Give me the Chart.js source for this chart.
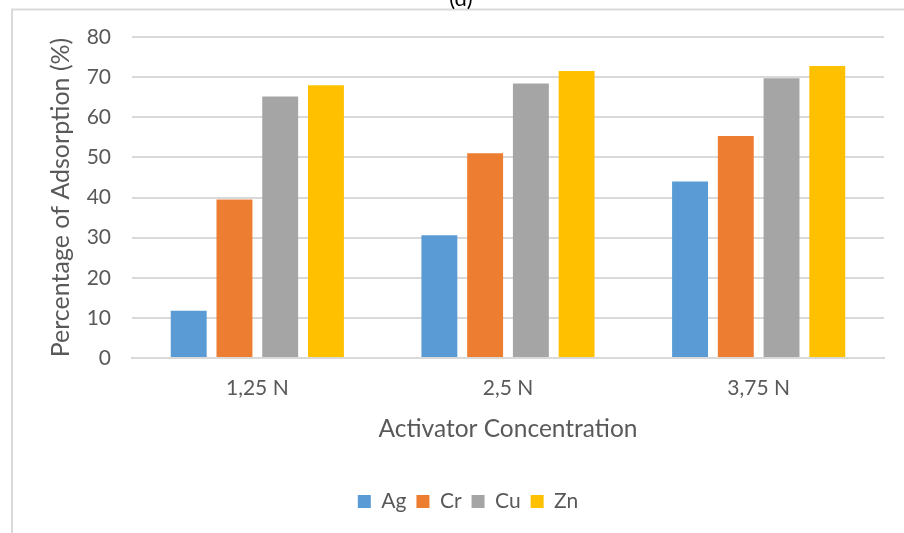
<!DOCTYPE html>
<html>
<head>
<meta charset="utf-8">
<script src="https://cdn.jsdelivr.net/npm/chart.js@4/dist/chart.umd.min.js"></script>
<style>
html,body{margin:0;padding:0;background:#fff;}
#wrap{position:relative;width:904px;height:533px;}
canvas{display:block;}
</style>
</head>
<body>
<div id="wrap"><canvas id="c" width="904" height="533"></canvas></div>
<script>
const categories = ['1,25 N', '2,5 N', '3,75 N'];
const seriesNames = ['Ag', 'Cr', 'Cu', 'Zn'];
const agValues = [11.8, 30.6, 44.0];
const crValues = [39.5, 51.0, 55.3];
const cuValues = [65.2, 68.4, 69.7];
const znValues = [68.0, 71.5, 72.8];
const yTicks = [0, 10, 20, 30, 40, 50, 60, 70, 80];
const chartTitle = '(d)';
const xTitle = 'Activator Concentration';
const yTitle = 'Percentage of Adsorption (%)';

const colors = ['#5B9BD5', '#ED7D31', '#A5A5A5', '#FFC000'];
const seriesValues = [agValues, crValues, cuValues, znValues];

const frameAndTitle = {
  id: 'frameAndTitle',
  afterLayout(chart) {
    if (chart.legend) { chart.legend.left += 11; chart.legend.right += 11; }
  },
  beforeDraw(chart) {
    const ctx = chart.ctx;
    ctx.save();
    ctx.fillStyle = '#ffffff';
    ctx.fillRect(0, 0, chart.width, chart.height);
    ctx.strokeStyle = '#d9d9d9';
    ctx.lineWidth = 2;
    ctx.strokeRect(12, 9.5, 2000, 2000);
    ctx.fillStyle = '#000000';
    ctx.font = '22px Lato';
    ctx.textAlign = 'center';
    ctx.textBaseline = 'alphabetic';
    ctx.fillText(chartTitle, 461, 6);
    ctx.restore();
  }
};

new Chart(document.getElementById('c'), {
  type: 'bar',
  data: {
    labels: categories,
    datasets: seriesNames.map((n, i) => ({
      label: n,
      data: seriesValues[i],
      backgroundColor: colors[i],
      borderWidth: 0,
      categoryPercentage: 0.73,
      barPercentage: 0.785
    }))
  },
  options: {
    responsive: false,
    animation: false,
    devicePixelRatio: 1,
    layout: { padding: { left: 30, right: 20, top: 37, bottom: 11 } },
    plugins: {
      legend: {
        position: 'bottom',
        labels: {
          boxWidth: 13,
          boxHeight: 13,
          padding: 10,
          color: '#595959',
          font: { family: 'Lato', size: 21 }
        }
      },
      title: { display: false },
      tooltip: { enabled: false }
    },
    scales: {
      x: {
        afterFit(scale) { scale.height = 123; },
        grid: { display: false, drawTicks: false },
        border: { color: '#d9d9d9', width: 2 },
        ticks: { color: '#595959', font: { family: 'Lato', size: 21 }, padding: 18 },
        title: { display: true, text: xTitle, color: '#595959', font: { family: 'Lato', size: 24.5 }, padding: { top: 0, bottom: 37 } }
      },
      y: {
        min: 0,
        max: 80,
        afterFit(scale) { scale.width = 102; },
        afterBuildTicks(axis) { axis.ticks = yTicks.map(v => ({ value: v })); },
        grid: { color: '#d9d9d9', lineWidth: 2, drawTicks: false },
        border: { display: false },
        ticks: { color: '#595959', font: { family: 'Lato', size: 21 }, padding: 21 },
        title: { display: true, text: yTitle, color: '#595959', font: { family: 'Lato', size: 25 }, padding: { top: 16, bottom: 0 } }
      }
    }
  },
  plugins: [frameAndTitle]
});
</script>
</body>
</html>
